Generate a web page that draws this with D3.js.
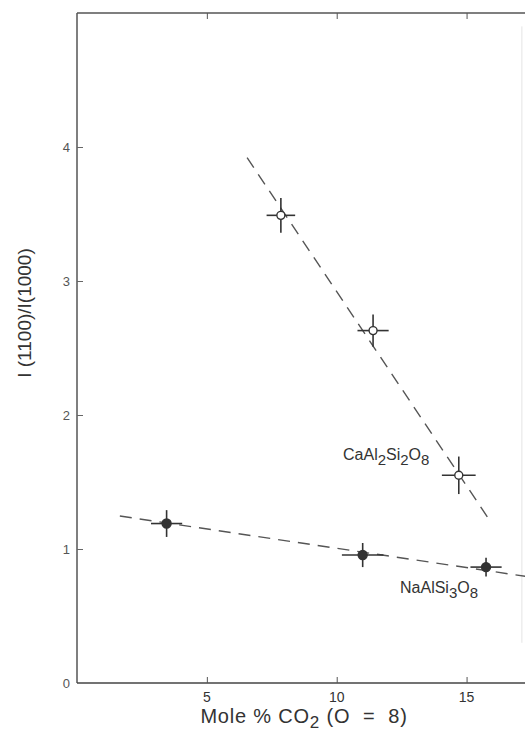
<!DOCTYPE html>
<html>
<head>
<meta charset="utf-8">
<script src="https://cdn.jsdelivr.net/npm/d3@7"></script>
<style>
  body { margin: 0; background: #fff; }
  text { font-family: "Liberation Sans", Arial, sans-serif; fill: #333; }
</style>
</head>
<body>
<script>
var width = 525,
    height = 731;

// CaAl2Si2O8 (open circles)
var caX = [7.85, 11.4, 14.7];
var caY = [3.49, 2.63, 1.55];
var caErrX = [0.55, 0.6, 0.65];
var caErrY = [0.13, 0.12, 0.14];
var caFit = [[6.55, 3.92], [15.8, 1.24]];

// NaAlSi3O8 (filled circles)
var naX = [3.45, 11.0, 15.75];
var naY = [1.19, 0.955, 0.865];
var naErrX = [0.6, 0.8, 0.6];
var naErrY = [0.1, 0.09, 0.07];
var naFit = [[1.65, 1.246], [17.3, 0.795]];

var xTicks = [5, 10, 15];
var yTicks = [0, 1, 2, 3, 4];

var x = d3.scaleLinear().domain([0, 17.25]).range([77, 525]);
var y = d3.scaleLinear().domain([0, 5]).range([683, 13]);

var svg = d3.select("body").append("svg")
    .attr("width", width)
    .attr("height", height);

// frame
svg.append("line")
    .attr("x1", x(0)).attr("y1", y(0)).attr("x2", x(0)).attr("y2", y(5))
    .style("stroke", "#555").style("stroke-width", 1.5);
svg.append("line")
    .attr("x1", x(0)).attr("y1", y(0)).attr("x2", width).attr("y2", y(0))
    .style("stroke", "#444").style("stroke-width", 1.5);
svg.append("line")
    .attr("x1", x(0)).attr("y1", y(5)).attr("x2", width).attr("y2", y(5))
    .style("stroke", "#555").style("stroke-width", 1.5);
svg.append("line")
    .attr("x1", x(17.13)).attr("y1", y(0.3)).attr("x2", x(17.13)).attr("y2", y(4.9))
    .style("stroke", "#e4e4e4").style("stroke-width", 1);

// inward ticks
svg.append("g").attr("transform", "translate(0," + y(0) + ")")
    .call(d3.axisTop(x).tickValues(xTicks).tickSize(6).tickFormat(""))
    .call(function(g) { g.select(".domain").remove(); g.selectAll("line").style("stroke", "#555"); });
svg.append("g").attr("transform", "translate(0," + y(5) + ")")
    .call(d3.axisBottom(x).tickValues(xTicks).tickSize(6).tickFormat(""))
    .call(function(g) { g.select(".domain").remove(); g.selectAll("line").style("stroke", "#555"); });
svg.append("g").attr("transform", "translate(" + x(0) + ",0)")
    .call(d3.axisRight(y).tickValues(yTicks.slice(1)).tickSize(6).tickFormat(""))
    .call(function(g) { g.select(".domain").remove(); g.selectAll("line").style("stroke", "#666"); });

// tick labels
svg.selectAll(".xlab").data(xTicks).enter().append("text")
    .attr("x", function(d) { return x(d); })
    .attr("y", y(0) + 19)
    .attr("text-anchor", "middle")
    .style("font-size", "14px")
    .text(function(d) { return d; });
svg.selectAll(".ylab").data(yTicks).enter().append("text")
    .attr("x", x(0) - 7)
    .attr("y", function(d) { return y(d) + 5; })
    .attr("text-anchor", "end")
    .style("font-size", "13px")
    .style("fill", "#555")
    .text(function(d) { return d; });

// axis titles
var xt = svg.append("text")
    .attr("x", 304).attr("y", 723)
    .attr("text-anchor", "middle")
    .style("font-size", "20px")
    .style("letter-spacing", "0.8px")
    .style("white-space", "pre");
xt.append("tspan").text("Mole % CO");
xt.append("tspan").attr("dy", 5).style("font-size", "17px").text("2");
xt.append("tspan").attr("dy", -5).text(" (O  =  8)");

svg.append("text")
    .attr("transform", "translate(31,313) rotate(-90)")
    .attr("text-anchor", "middle")
    .style("font-size", "19px")
    .text("I (1100)/I(1000)");

// fit lines
var line = d3.line().x(function(d) { return x(d[0]); }).y(function(d) { return y(d[1]); });
[caFit, naFit].forEach(function(f) {
  svg.append("path")
      .attr("d", line(f))
      .style("fill", "none")
      .style("stroke", "#555")
      .style("stroke-width", 1.4)
      .style("stroke-dasharray", "12,8");
});

// points with error bars
function drawSeries(xs, ys, ex, ey, open) {
  var g = svg.append("g");
  xs.forEach(function(v, i) {
    g.append("line")
        .attr("x1", x(v - ex[i])).attr("x2", x(v + ex[i]))
        .attr("y1", y(ys[i])).attr("y2", y(ys[i]))
        .style("stroke", "#333").style("stroke-width", 1.6);
    g.append("line")
        .attr("x1", x(v)).attr("x2", x(v))
        .attr("y1", y(ys[i] - ey[i])).attr("y2", y(ys[i] + ey[i]))
        .style("stroke", "#333").style("stroke-width", 1.6);
    g.append("circle")
        .attr("cx", x(v)).attr("cy", y(ys[i]))
        .attr("r", open ? 4 : 4.5)
        .style("fill", open ? "#fff" : "#333")
        .style("stroke", "#333")
        .style("stroke-width", 1.4);
  });
}
drawSeries(caX, caY, caErrX, caErrY, true);
drawSeries(naX, naY, naErrX, naErrY, false);

// series labels
function formula(xp, yp, parts) {
  var t = svg.append("text").attr("x", xp).attr("y", yp).style("font-size", "16px");
  parts.forEach(function(p, i) {
    var sub = i % 2 === 1;
    t.append("tspan")
        .attr("dy", i === 0 ? 0 : (sub ? 5 : -5))
        .style("font-size", sub ? "15px" : "16px")
        .text(p);
  });
}
formula(343, 460, ["CaAl", "2", "Si", "2", "O", "8"]);
formula(400, 593, ["NaAlSi", "3", "O", "8"]);
</script>
</body>
</html>
